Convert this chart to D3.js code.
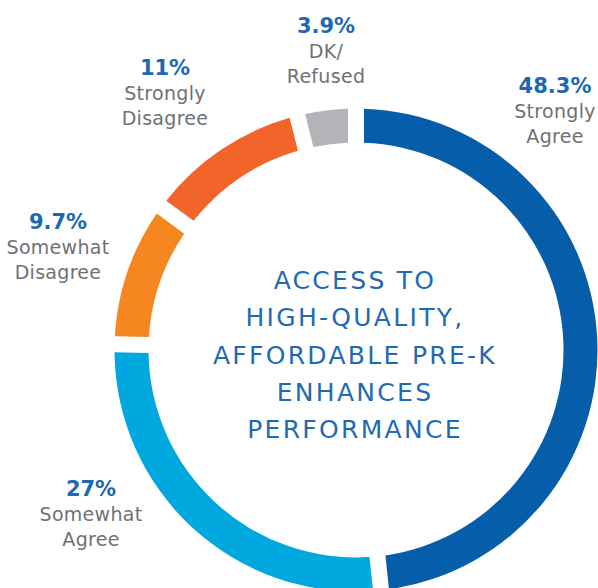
<!DOCTYPE html>
<html>
<head>
<meta charset="utf-8">
<script src="https://cdn.jsdelivr.net/npm/d3@7"></script>
<style>
  body { margin: 0; background: #fff; }
  svg { display: block; }
</style>
</head>
<body>
<div id="chart"></div>
<script>
// data
var categories = ["Strongly Agree", "Somewhat Agree", "Somewhat Disagree", "Strongly Disagree", "DK/Refused"];
var values = [48.3, 27, 9.7, 11, 3.9];
var valueLabels = ["48.3%", "27%", "9.7%", "11%", "3.9%"];
var labelLines = [["Strongly", "Agree"], ["Somewhat", "Agree"], ["Somewhat", "Disagree"], ["Strongly", "Disagree"], ["DK/", "Refused"]];
var titleLines = ["ACCESS TO", "HIGH-QUALITY,", "AFFORDABLE PRE-K", "ENHANCES", "PERFORMANCE"];

// colours + label spots (layout, not data)
var colors = ["#065da9", "#00a8df", "#f58620", "#f1652a", "#b2b4b7"];
var labelPos = [[555, 93], [91, 496], [58, 229], [165, 75], [326, 33]];

var width = 598, height = 588;
var cx = 356, cy = 350;
var outerR = 241.5, innerR = 207.5;

var svg = d3.select("#chart")
  .append("svg")
    .attr("width", width)
    .attr("height", height);

var color = d3.scaleOrdinal()
  .domain(categories)
  .range(colors);

var pie = d3.pie()
  .sort(null)
  .value(function(d, i) { return values[i]; });

var arc = d3.arc()
  .innerRadius(innerR)
  .outerRadius(outerR)
  .padRadius(outerR)
  .padAngle(16 / outerR);

var g = svg.append("g")
  .attr("transform", "translate(" + cx + "," + cy + ")");

g.selectAll("path")
  .data(pie(categories))
  .enter()
  .append("path")
    .attr("d", arc)
    .attr("fill", function(d) { return color(d.data); });

// center title
svg.append("g")
  .selectAll("text")
  .data(titleLines)
  .enter()
  .append("text")
    .attr("x", cx - 1)
    .attr("y", function(d, i) { return 289 + i * 37.3; })
    .attr("text-anchor", "middle")
    .style("font-family", "DejaVu Sans, sans-serif")
    .style("font-size", "25px")
    .style("letter-spacing", "2.3px")
    .style("fill", "#1e6ab4")
    .text(function(d) { return d; });

// segment labels
var lab = svg.append("g")
  .selectAll("g")
  .data(categories)
  .enter()
  .append("g")
    .attr("transform", function(d, i) { return "translate(" + labelPos[i][0] + "," + labelPos[i][1] + ")"; });

lab.append("text")
  .attr("text-anchor", "middle")
  .style("font-family", "DejaVu Sans, sans-serif")
  .style("font-weight", "bold")
  .style("font-size", "21px")
  .style("fill", "#1d68b2")
  .text(function(d, i) { return valueLabels[i]; });

lab.each(function(d, i) {
  d3.select(this).selectAll("text.sub")
    .data(labelLines[i])
    .enter()
    .append("text")
      .attr("class", "sub")
      .attr("y", function(t, j) { return 25 + j * 24.5; })
      .attr("text-anchor", "middle")
      .style("font-family", "DejaVu Sans, sans-serif")
      .style("font-size", "19px")
      .style("letter-spacing", "0.3px")
      .style("fill", "#707173")
      .text(function(t) { return t; });
});
</script>
</body>
</html>
